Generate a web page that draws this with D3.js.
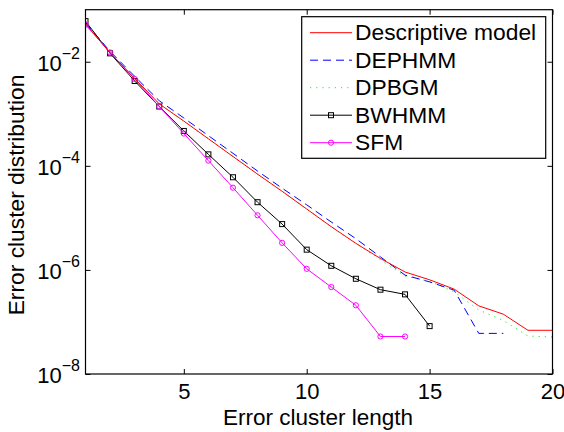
<!DOCTYPE html>
<html>
<head>
<meta charset="utf-8">
<script src="https://cdn.jsdelivr.net/npm/d3@7"></script>
<style>
  html, body { margin: 0; padding: 0; background: #fff; }
  svg { display: block; font-family: "Liberation Sans", Arial, Helvetica, sans-serif; }
</style>
</head>
<body>
<svg id="chart" width="564" height="432"></svg>
<script>
// ---- data ----
const lengths = [1,2,3,4,5,6,7,8,9,10,11,12,13,14,15,16,17,18,19,20];

const descriptiveModel = [5.37e-2, 1.48e-2, 4.79e-3, 1.55e-3, 7.24e-4, 3.31e-4, 1.51e-4, 6.92e-5, 3.24e-5, 1.48e-5,
                          6.76e-6, 3.24e-6, 1.66e-6, 9.12e-7, 6.46e-7, 4.27e-7, 2.04e-7, 1.41e-7, 6.92e-8, 6.92e-8];
const dephmm = [5.62e-2, 1.58e-2, 5.25e-3, 1.78e-3, 8.32e-4, 3.80e-4, 1.74e-4, 7.94e-5, 3.72e-5, 1.78e-5,
                8.32e-6, 3.98e-6, 1.78e-6, 7.94e-7, 5.89e-7, 4.07e-7, 6.03e-8, 6.03e-8];
const dpbgm = [5.37e-2, 1.48e-2, 4.79e-3, 1.55e-3, 7.24e-4, 3.31e-4, 1.51e-4, 6.92e-5, 3.24e-5, 1.48e-5,
               6.76e-6, 3.24e-6, 1.58e-6, 7.59e-7, 6.03e-7, 3.80e-7, 1.70e-7, 1.07e-7, 5.37e-8, 5.13e-8];
const bwhmm = [6.03e-2, 1.45e-2, 4.27e-3, 1.38e-3, 4.68e-4, 1.66e-4, 6.03e-5, 2.00e-5, 7.59e-6, 2.45e-6,
               1.20e-6, 6.76e-7, 4.17e-7, 3.39e-7, 8.32e-8];
const sfm = [5.13e-2, 1.51e-2, 4.68e-3, 1.38e-3, 4.17e-4, 1.26e-4, 3.80e-5, 1.12e-5, 3.31e-6, 1.05e-6,
             4.68e-7, 2.09e-7, 5.25e-8, 5.25e-8];

const seriesNames = ["Descriptive model", "DEPHMM", "DPBGM", "BWHMM", "SFM"];
const xTicks = [5, 10, 15, 20];
const yTicks = [1e-2, 1e-4, 1e-6, 1e-8];
const xTitle = "Error cluster length";
const yTitle = "Error cluster distribution";

// ---- layout ----
const L = 85.5, R = 552.5, T = 9.7, B = 374;
const svg = d3.select("#chart");

const x = d3.scaleLinear().domain([1, 20]).range([L, R]);
const y = d3.scaleLog().domain([1e-8, 1e-1]).range([B, T]);

const series = [
  { name: seriesNames[0], values: descriptiveModel, color: "#ff0000", dash: null, marker: null },
  { name: seriesNames[1], values: dephmm, color: "#0000ff", dash: "8,5", marker: null },
  { name: seriesNames[2], values: dpbgm, color: "#22ee22", dash: "1.2,5", marker: null },
  { name: seriesNames[3], values: bwhmm, color: "#000000", dash: null, marker: "square" },
  { name: seriesNames[4], values: sfm, color: "#ff00ff", dash: null, marker: "circle" }
];

svg.append("defs").append("clipPath").attr("id", "clip")
  .append("rect").attr("x", L).attr("y", T).attr("width", R - L).attr("height", B - T);

const line = d3.line().x(d => x(d[0])).y(d => y(d[1]));
const plot = svg.append("g").attr("clip-path", "url(#clip)");

[2, 1, 3, 4, 0].forEach(i => {
  const s = series[i];
  const pts = s.values.map((v, j) => [lengths[j], v]);
  plot.append("path").datum(pts)
    .attr("d", line)
    .attr("fill", "none")
    .attr("stroke", s.color)
    .attr("stroke-width", 1)
    .attr("stroke-dasharray", s.dash);
  if (s.marker === "square") {
    plot.selectAll(null).data(pts).enter().append("rect")
      .attr("x", d => x(d[0]) - 2.5).attr("y", d => y(d[1]) - 2.5)
      .attr("width", 5).attr("height", 5)
      .attr("fill", "none").attr("stroke", s.color).attr("stroke-width", 1);
  } else if (s.marker === "circle") {
    plot.selectAll(null).data(pts).enter().append("circle")
      .attr("cx", d => x(d[0])).attr("cy", d => y(d[1])).attr("r", 2.6)
      .attr("fill", "none").attr("stroke", s.color).attr("stroke-width", 1);
  }
});

// ---- axes ----
const fs = 22;
const fsLabel = 22.5;
const xAxisB = d3.axisBottom(x).tickValues(xTicks).tickSize(-5).tickPadding(9.4).tickFormat(d3.format("d"));
const gxB = svg.append("g").attr("transform", `translate(0,${B})`).call(xAxisB);
const xAxisT = d3.axisTop(x).tickValues(xTicks).tickSize(-5).tickFormat("");
const gxT = svg.append("g").attr("transform", `translate(0,${T})`).call(xAxisT);

const yAxisL = d3.axisLeft(y).tickValues(yTicks).tickSize(-5).tickPadding(5.5).tickFormat("");
const gyL = svg.append("g").attr("transform", `translate(${L},0)`).call(yAxisL);
const yAxisR = d3.axisRight(y).tickValues(yTicks).tickSize(-5).tickFormat("");
const gyR = svg.append("g").attr("transform", `translate(${R},0)`).call(yAxisR);

[gxB, gxT, gyL, gyR].forEach(g => {
  g.select(".domain").remove();
  g.selectAll(".tick line").attr("stroke", "#000").attr("stroke-width", 1);
  g.selectAll("text").attr("font-size", fs).attr("fill", "#000").attr("font-family", null);
});

gyL.selectAll(".tick text").each(function(d) {
  const t = d3.select(this);
  t.text(null).attr("dy", "0.38em");
  t.append("tspan").text("10");
  t.append("tspan").attr("font-size", 16).attr("dy", -11.5).text("\u2212" + Math.round(-Math.log10(d)));
});

// frame
svg.append("rect").attr("x", L).attr("y", T).attr("width", R - L).attr("height", B - T)
  .attr("fill", "none").attr("stroke", "#000").attr("stroke-width", 1.2);

// axis titles
svg.append("text").attr("x", 318).attr("y", 424.5).attr("text-anchor", "middle")
  .attr("font-size", fsLabel).text(xTitle);
svg.append("text").attr("transform", "translate(24,195) rotate(-90)").attr("text-anchor", "middle")
  .attr("font-size", 22.8).text(yTitle);

// ---- legend ----
const lg = svg.append("g");
lg.append("rect").attr("x", 301.7).attr("y", 16.7).attr("width", 244).attr("height", 141.6)
  .attr("fill", "#fff").attr("stroke", "#000").attr("stroke-width", 1.2);
series.forEach((s, i) => {
  const cy = 32.7 + i * 27.5;
  lg.append("line").attr("x1", 310).attr("x2", 352).attr("y1", cy).attr("y2", cy)
    .attr("stroke", s.color).attr("stroke-width", 1).attr("stroke-dasharray", s.dash);
  if (s.marker === "square") {
    lg.append("rect").attr("x", 331 - 2.5).attr("y", cy - 2.5).attr("width", 5).attr("height", 5)
      .attr("fill", "none").attr("stroke", s.color);
  } else if (s.marker === "circle") {
    lg.append("circle").attr("cx", 331).attr("cy", cy).attr("r", 2.6)
      .attr("fill", "none").attr("stroke", s.color);
  }
  lg.append("text").attr("x", 355).attr("y", cy).attr("dy", "0.33em")
    .attr("font-size", 22.8).text(s.name);
});
</script>
</body>
</html>
